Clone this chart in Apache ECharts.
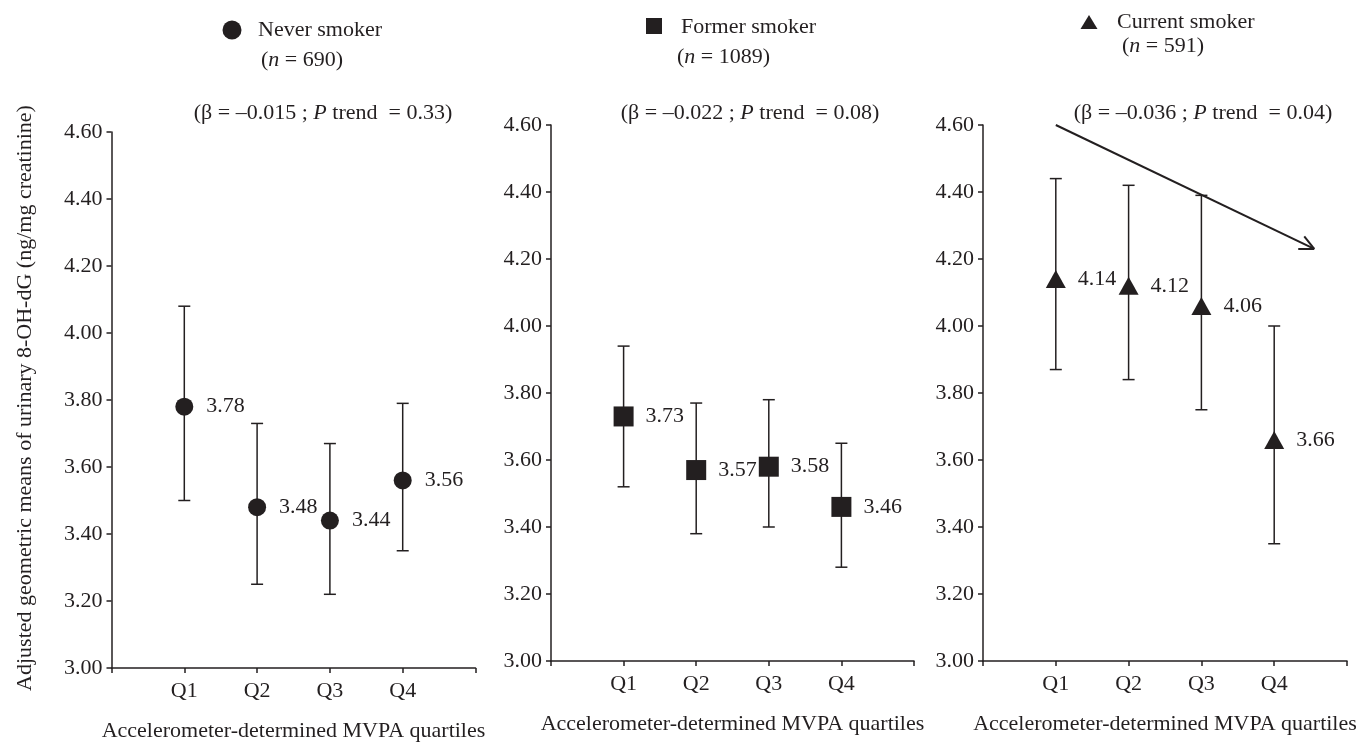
<!DOCTYPE html>
<html>
<head>
<meta charset="utf-8">
<title>8-OH-dG by MVPA quartiles</title>
<script src="https://cdn.jsdelivr.net/npm/echarts@6/dist/echarts.min.js"></script>
<style>
  html, body { margin: 0; padding: 0; background: #fff; }
  #chart { width: 1367px; height: 743px; }
</style>
</head>
<body>
<div id="chart"></div>
<script type="text/javascript">
// quartile labels
var quartiles = ['Q1', 'Q2', 'Q3', 'Q4'];

// never smoker
var neverMean = [3.78, 3.48, 3.44, 3.56];
var neverLow  = [3.50, 3.25, 3.22, 3.35];
var neverHigh = [4.08, 3.73, 3.67, 3.79];

// former smoker
var formerMean = [3.73, 3.57, 3.58, 3.46];
var formerLow  = [3.52, 3.38, 3.40, 3.28];
var formerHigh = [3.94, 3.77, 3.78, 3.65];

// current smoker
var currentMean = [4.14, 4.12, 4.06, 3.66];
var currentLow  = [3.87, 3.84, 3.75, 3.35];
var currentHigh = [4.44, 4.42, 4.39, 4.00];

// trend arrow in panel 3 (start, end) in data units
var trendArrow = [[1, 4.60], [4.55, 4.23]];

var FONT = '"Liberation Serif", "DejaVu Serif", serif';
var INK = '#231f20';

var myChart = echarts.init(document.getElementById('chart'));

function xAxisFor(idx) {
    return {
        type: 'value', gridIndex: idx, min: 0, max: 5, interval: 1,
        axisLine: { lineStyle: { color: INK, width: 1.5 } },
        axisTick: { length: 5, lineStyle: { color: INK, width: 1.5 } },
        splitLine: { show: false },
        axisLabel: {
            color: INK, fontFamily: FONT, fontSize: 22, margin: 12,
            formatter: function (v) { return (v >= 1 && v <= 4) ? quartiles[v - 1] : ''; }
        },
        name: 'Accelerometer-determined MVPA quartiles',
        nameLocation: 'middle', nameGap: 52,
        nameTextStyle: { color: INK, fontFamily: FONT, fontSize: 22 }
    };
}

function yAxisFor(idx) {
    return {
        type: 'value', gridIndex: idx, min: 3, max: 4.6, interval: 0.2,
        axisLine: { show: true, lineStyle: { color: INK, width: 1.5 } },
        axisTick: { show: true, length: 5, lineStyle: { color: INK, width: 1.5 } },
        splitLine: { show: false },
        axisLabel: {
            color: INK, fontFamily: FONT, fontSize: 22, margin: 9,
            formatter: function (v) { return v.toFixed(2); }
        }
    };
}

function errData(lo, hi) {
    return lo.map(function (v, i) { return [i + 1, v, hi[i]]; });
}
function meanData(m) {
    return m.map(function (v, i) { return [i + 1, v]; });
}

function errorBars(idx, lo, hi) {
    return {
        type: 'custom', xAxisIndex: idx, yAxisIndex: idx, z: 2,
        data: errData(lo, hi),
        renderItem: function (params, api) {
            var x = api.value(0);
            var a = api.coord([x, api.value(1)]);
            var b = api.coord([x, api.value(2)]);
            var st = { stroke: INK, lineWidth: 1.5 };
            return {
                type: 'group',
                children: [
                    { type: 'line', shape: { x1: a[0], y1: a[1], x2: b[0], y2: b[1] }, style: st },
                    { type: 'line', shape: { x1: a[0] - 6, y1: a[1], x2: a[0] + 6, y2: a[1] }, style: st },
                    { type: 'line', shape: { x1: b[0] - 6, y1: b[1], x2: b[0] + 6, y2: b[1] }, style: st }
                ]
            };
        }
    };
}

function means(idx, m, symbol, size, dist) {
    return {
        type: 'scatter', xAxisIndex: idx, yAxisIndex: idx, z: 3,
        data: meanData(m),
        symbol: symbol, symbolSize: size,
        itemStyle: { color: INK, opacity: 1 },
        label: {
            show: true, position: 'right', distance: dist,
            color: INK, fontFamily: FONT, fontSize: 22,
            formatter: function (p) { return p.value[1].toFixed(2); }
        }
    };
}

var richBase = {
    t: { fontFamily: FONT, fontSize: 22, fill: INK },
    i: { fontFamily: FONT, fontSize: 22, fontStyle: 'italic', fill: INK }
};

function txt(x, y, text, align) {
    return {
        type: 'text', x: x, y: y,
        style: {
            text: text, fontFamily: FONT, fontSize: 22, fill: INK,
            align: align || 'left', verticalAlign: 'middle', rich: richBase
        }
    };
}

var graphics = [
    // header keys
    { type: 'circle', shape: { cx: 232, cy: 30, r: 9.5 }, style: { fill: INK } },
    txt(258, 30, 'Never smoker'),
    txt(261, 60, '{t|(}{i|n}{t| = 690)}'),
    { type: 'rect', shape: { x: 646, y: 18, width: 16, height: 16 }, style: { fill: INK } },
    txt(681, 27, 'Former smoker'),
    txt(677, 57, '{t|(}{i|n}{t| = 1089)}'),
    { type: 'polygon', shape: { points: [[1080.5, 29], [1089, 15], [1097.5, 29]] }, style: { fill: INK } },
    txt(1117, 22, 'Current smoker'),
    txt(1122, 46, '{t|(}{i|n}{t| = 591)}'),
    // trend stats
    txt(323, 113, '{t|(β = –0.015 ; }{i|P}{t| trend  = 0.33)}', 'center'),
    txt(750, 113, '{t|(β = –0.022 ; }{i|P}{t| trend  = 0.08)}', 'center'),
    txt(1203, 113, '{t|(β = –0.036 ; }{i|P}{t| trend  = 0.04)}', 'center'),
    // y axis title
    {
        type: 'text', x: 25, y: 398, rotation: Math.PI / 2,
        style: {
            text: 'Adjusted geometric means of urinary 8-OH-dG (ng/mg creatinine)',
            fontFamily: FONT, fontSize: 22, fill: INK, align: 'center', verticalAlign: 'middle'
        }
    }
];

option = {
    animation: false,
    backgroundColor: '#ffffff',
    grid: [
        { left: 111.5, top: 132, width: 364, height: 536, outerBoundsMode: 'none' },
        { left: 551, top: 125, width: 363, height: 536, outerBoundsMode: 'none' },
        { left: 983, top: 125, width: 364, height: 536, outerBoundsMode: 'none' }
    ],
    xAxis: [xAxisFor(0), xAxisFor(1), xAxisFor(2)],
    yAxis: [yAxisFor(0), yAxisFor(1), yAxisFor(2)],
    graphic: graphics,
    series: [
        errorBars(0, neverLow, neverHigh),
        means(0, neverMean, 'circle', 18, 13),
        errorBars(1, formerLow, formerHigh),
        means(1, formerMean, 'rect', 20, 12),
        errorBars(2, currentLow, currentHigh),
        means(2, currentMean, 'triangle', [20, 18], 12),
        {
            type: 'custom', xAxisIndex: 2, yAxisIndex: 2, z: 2,
            data: [[trendArrow[0][0], trendArrow[0][1], trendArrow[1][0], trendArrow[1][1]]],
            renderItem: function (params, api) {
                var s = api.coord([api.value(0), api.value(1)]);
                var e = api.coord([api.value(2), api.value(3)]);
                var ang = Math.atan2(e[1] - s[1], e[0] - s[0]);
                var len = 16, spread = 0.45;
                var st = { stroke: INK, lineWidth: 2 };
                return {
                    type: 'group',
                    children: [
                        { type: 'line', shape: { x1: s[0], y1: s[1], x2: e[0], y2: e[1] }, style: st },
                        { type: 'line', shape: { x1: e[0], y1: e[1],
                            x2: e[0] - len * Math.cos(ang - spread), y2: e[1] - len * Math.sin(ang - spread) }, style: st },
                        { type: 'line', shape: { x1: e[0], y1: e[1],
                            x2: e[0] - len * Math.cos(ang + spread), y2: e[1] - len * Math.sin(ang + spread) }, style: st }
                    ]
                };
            }
        }
    ]
};

myChart.setOption(option);
</script>
</body>
</html>
